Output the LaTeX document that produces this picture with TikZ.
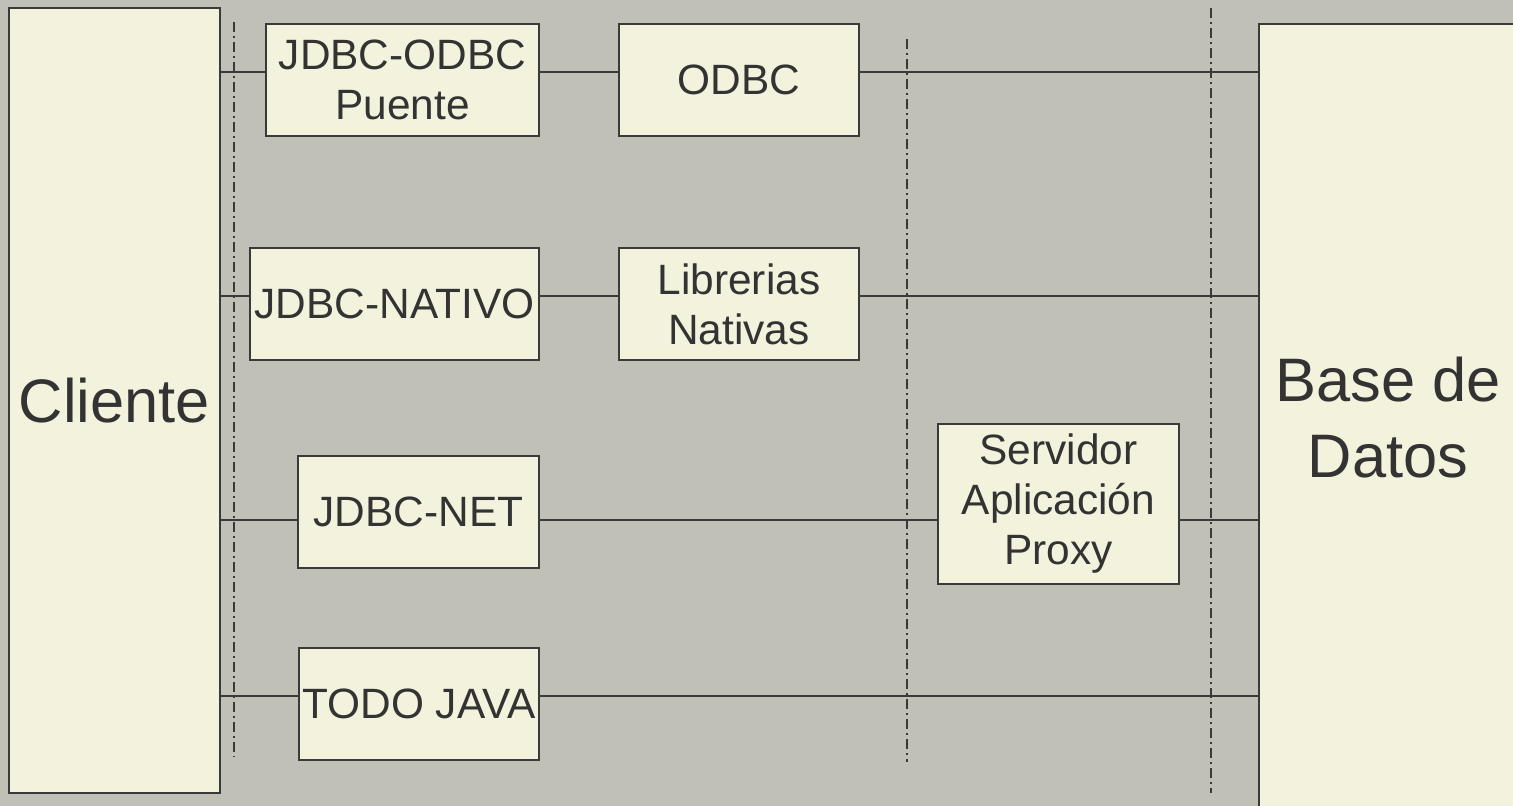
\documentclass[tikz,border=0pt]{standalone}
\usepackage{fontspec}
\setmainfont{Liberation Sans}
\definecolor{bgc}{RGB}{193,192,183}
\definecolor{boxc}{RGB}{243,242,220}
\definecolor{linec}{RGB}{58,58,58}
\definecolor{txtc}{RGB}{51,51,51}
\tikzset{
  box/.style={draw=linec, line width=1pt, fill=boxc, inner sep=0pt, align=center,
    text=txtc, font=\fontsize{21.2pt}{25pt}\selectfont},
  conn/.style={draw=linec, line width=0.85pt},
  sep/.style={draw=linec, line width=1pt, dash pattern=on 5pt off 2pt on 1pt off 2pt},
  bigtxt/.style={text=txtc, align=center, inner sep=0pt, font=\fontsize{30.7pt}{38pt}\selectfont}
}
\begin{document}
\begin{tikzpicture}[x=0.5pt,y=-0.5pt]
\fill[bgc] (0,0) rectangle (1513,806);
\useasboundingbox (0,0) rectangle (1513,806);
\begin{scope}
\clip (0,0) rectangle (1513,806);
% big boxes
\node[box, bigtxt, minimum width=105.5pt, minimum height=392.5pt] (cli) at (114.5,400.5) {\raisebox{-2pt}{Cliente}};
\node[box, bigtxt, minimum width=129pt, minimum height=394pt] (bd) at (1388,418) {Base de\\Datos};
% small boxes
\node[box, minimum width=136.5pt, minimum height=56pt] (b1) at (402.5,80) {JDBC-ODBC\\Puente};
\node[box, minimum width=120pt, minimum height=56pt] (b2) at (739,80) {ODBC};
\node[box, minimum width=144.5pt, minimum height=56pt] (b3) at (394.5,304) {JDBC-NATIVO};
\node[box, minimum width=120pt, minimum height=56pt] (b4) at (739,304) {Librerias\\Nativas};
\node[box, minimum width=120.5pt, minimum height=56pt] (b5) at (418.5,512) {JDBC-NET};
\node[box, minimum width=120.5pt, minimum height=80pt] (b6) at (1058.5,504) {Servidor\\Aplicación\\Proxy};
\node[box, minimum width=120pt, minimum height=56pt] (b7) at (419,704) {TODO JAVA};
% row levels
\coordinate (r1) at (0,72);
\coordinate (r2) at (0,296);
\coordinate (r3) at (0,520);
\coordinate (r4) at (0,696);
% dashed separators
\coordinate (d1t) at (234,22);  \coordinate (d1b) at (234,757);
\coordinate (d2t) at (907,39);  \coordinate (d2b) at (907,762);
\coordinate (d3t) at (1211,8);  \coordinate (d3b) at (1211,793);
\draw[sep] (d1t) -- (d1b);
\draw[sep] (d2t) -- (d2b);
\draw[sep] (d3t) -- (d3b);
% connectors
\draw[conn] (cli.east |- r1) -- (b1.west |- r1);
\draw[conn] (b1.east |- r1) -- (b2.west |- r1);
\draw[conn] (b2.east |- r1) -- (bd.west |- r1);
\draw[conn] (cli.east |- r2) -- (b3.west |- r2);
\draw[conn] (b3.east |- r2) -- (b4.west |- r2);
\draw[conn] (b4.east |- r2) -- (bd.west |- r2);
\draw[conn] (cli.east |- r3) -- (b5.west |- r3);
\draw[conn] (b5.east |- r3) -- (b6.west |- r3);
\draw[conn] (b6.east |- r3) -- (bd.west |- r3);
\draw[conn] (cli.east |- r4) -- (b7.west |- r4);
\draw[conn] (b7.east |- r4) -- (bd.west |- r4);
\end{scope}
\end{tikzpicture}
\end{document}
